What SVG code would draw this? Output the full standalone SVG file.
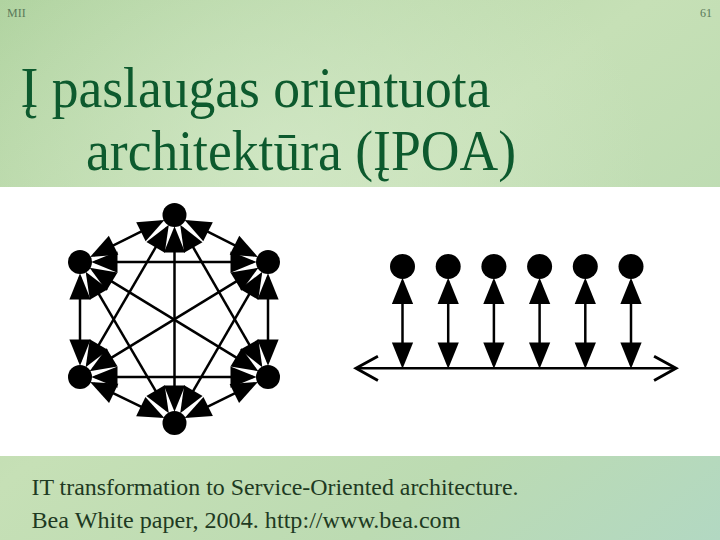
<svg xmlns="http://www.w3.org/2000/svg" width="720" height="540" viewBox="0 0 720 540">
<style>
.title{font-size:58px;fill:#0d5a2e}
.foot{font-size:23.5px;fill:#1e3a22}
.hdr{font-size:12px;fill:#5a7a5a}
.node{fill:#000}
.edge{stroke:#000;stroke-width:2.5;fill:none;marker-start:url(#ah);marker-end:url(#ah)}
.bus{stroke:#000;stroke-width:2.5;fill:none;marker-start:url(#open);marker-end:url(#open)}
</style>
<defs>
<linearGradient id="bg" x1="0" y1="0" x2="1" y2="1">
<stop offset="0" stop-color="#b0d3a0"/>
<stop offset="0.45" stop-color="#c6e0b6"/>
<stop offset="0.75" stop-color="#bcdbb2"/>
<stop offset="1" stop-color="#b2d8c2"/>
</linearGradient>
<radialGradient id="hl" cx="0.4" cy="0.3" r="0.5">
<stop offset="0" stop-color="#d6eacb" stop-opacity="0.7"/>
<stop offset="1" stop-color="#d6eacb" stop-opacity="0"/>
</radialGradient>
<marker id="ah" markerUnits="userSpaceOnUse" orient="auto-start-reverse" refX="0" refY="0" markerWidth="30" markerHeight="30" viewBox="-20 -10 24 20" overflow="visible">
<path d="M3,0 L-18,-8.5 L-18,8.5 Z" fill="#000"/>
</marker>
<marker id="open" markerUnits="userSpaceOnUse" orient="auto-start-reverse" refX="0" refY="0" markerWidth="30" markerHeight="30" viewBox="-22 -13 24 26" overflow="visible">
<path d="M-19,-10.5 L0,0 L-19,10.5" fill="none" stroke="#000" stroke-width="2.5"/>
</marker>
</defs>
<rect width="720" height="540" fill="url(#bg)"/>
<rect width="720" height="540" fill="url(#hl)"/>
<rect x="0" y="187" width="720" height="269" fill="#fff"/>
<g font-family="'Liberation Serif', 'Times New Roman', serif">
<text class="hdr" x="7" y="17">MII</text>
<text class="hdr" x="712" y="17" text-anchor="end">61</text>
<text class="title" x="20.5" y="106.5" textLength="470" lengthAdjust="spacingAndGlyphs">Į paslaugas orientuota</text>
<text class="title" x="86" y="170" textLength="430" lengthAdjust="spacingAndGlyphs">architektūra (ĮPOA)</text>
<text class="foot" x="31.5" y="495" textLength="487" lengthAdjust="spacingAndGlyphs">IT transformation to Service-Oriented architecture.</text>
<text class="foot" x="31.5" y="528" textLength="429" lengthAdjust="spacingAndGlyphs">Bea White paper, 2004. http://www.bea.com</text>
</g>
<g id="connectors">
<line class="edge" x1="161.07" y1="221.68" x2="93.43" y2="255.32"/>
<line class="edge" x1="187.93" y1="221.68" x2="254.57" y2="255.32"/>
<line class="edge" x1="166.94" y1="227.96" x2="87.56" y2="364.04"/>
<line class="edge" x1="182.06" y1="227.96" x2="260.44" y2="364.04"/>
<line class="edge" x1="174.5" y1="230" x2="174.5" y2="408"/>
<line class="edge" x1="95" y1="262" x2="253" y2="262"/>
<line class="edge" x1="80" y1="277" x2="80" y2="362"/>
<line class="edge" x1="92.8" y1="269.83" x2="255.2" y2="369.17"/>
<line class="edge" x1="87.59" y1="274.94" x2="166.91" y2="410.06"/>
<line class="edge" x1="255.2" y1="269.83" x2="92.8" y2="369.17"/>
<line class="edge" x1="268" y1="277" x2="268" y2="362"/>
<line class="edge" x1="260.41" y1="274.94" x2="182.09" y2="410.06"/>
<line class="edge" x1="95" y1="377" x2="253" y2="377"/>
<line class="edge" x1="93.49" y1="383.56" x2="161.01" y2="416.44"/>
<line class="edge" x1="254.51" y1="383.56" x2="187.99" y2="416.44"/>
<line class="edge" x1="402.5" y1="281.5" x2="402.5" y2="365"/>
<line class="edge" x1="448.2" y1="281.5" x2="448.2" y2="365"/>
<line class="edge" x1="493.9" y1="281.5" x2="493.9" y2="365"/>
<line class="edge" x1="539.6" y1="281.5" x2="539.6" y2="365"/>
<line class="edge" x1="585.3" y1="281.5" x2="585.3" y2="365"/>
<line class="edge" x1="631" y1="281.5" x2="631" y2="365"/>
<line class="bus" x1="356" y1="368.3" x2="676" y2="368.3"/>
</g>
<g id="n-top"><circle class="node" cx="174.5" cy="215" r="12"/></g>
<g id="n-ul"><circle class="node" cx="80" cy="262" r="12"/></g>
<g id="n-ur"><circle class="node" cx="268" cy="262" r="12"/></g>
<g id="n-ll"><circle class="node" cx="80" cy="377" r="12"/></g>
<g id="n-lr"><circle class="node" cx="268" cy="377" r="12"/></g>
<g id="n-bot"><circle class="node" cx="174.5" cy="423" r="12"/></g>
<g id="s1"><circle class="node" cx="402.5" cy="266.5" r="12.5"/></g>
<g id="s2"><circle class="node" cx="448.2" cy="266.5" r="12.5"/></g>
<g id="s3"><circle class="node" cx="493.9" cy="266.5" r="12.5"/></g>
<g id="s4"><circle class="node" cx="539.6" cy="266.5" r="12.5"/></g>
<g id="s5"><circle class="node" cx="585.3" cy="266.5" r="12.5"/></g>
<g id="s6"><circle class="node" cx="631" cy="266.5" r="12.5"/></g>
</svg>
